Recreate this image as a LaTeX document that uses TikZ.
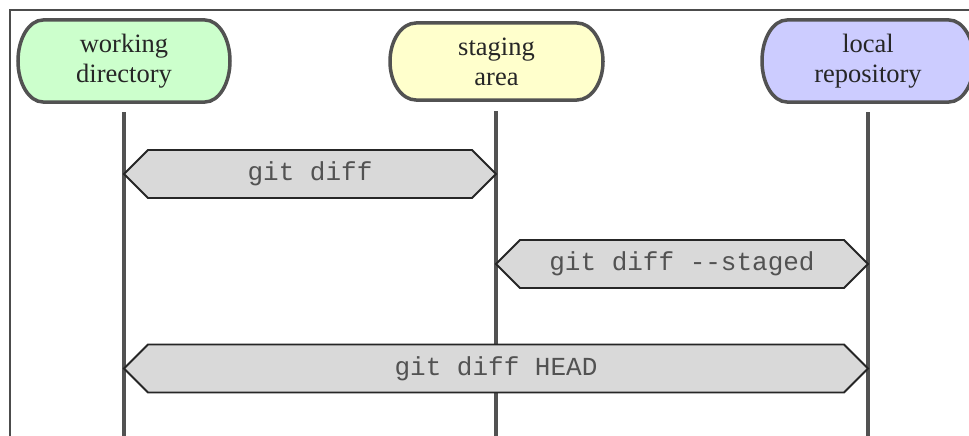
\documentclass[tikz,border=0pt]{standalone}
\usepackage{fontspec}
\setmainfont{Liberation Serif}
\newfontfamily\codefont{Liberation Mono}
\newcommand\stadium[6]{% cx cy halfwidth halfheight xradius fill
  \path[stadiumline, fill=#6] (#1-#3+#5,#2-#4) -- (#1+#3-#5,#2-#4)
    arc[start angle=-90,end angle=90,x radius=#5,y radius=#4]
    -- (#1-#3+#5,#2+#4)
    arc[start angle=90,end angle=270,x radius=#5,y radius=#4] -- cycle;}
\newcommand\hexbar[4]{% x1 x2 ymid halfheight
  \path[barshape] (#1,#3) -- (#1+#4,#3-#4) -- (#2-#4,#3-#4) -- (#2,#3)
    -- (#2-#4,#3+#4) -- (#1+#4,#3+#4) -- cycle;}
\definecolor{wdgreen}{HTML}{CCFFCC}
\definecolor{sayellow}{HTML}{FFFFCC}
\definecolor{lrblue}{HTML}{CCCCFF}
\begin{document}
\begin{tikzpicture}[x=1pt,y=-1pt,
  frameline/.style={draw=black!70, line width=1.5},
  stadiumline/.style={draw=black!68, line width=3.5},
  lifeline/.style={draw=black!68, line width=4},
  barshape/.style={draw=black!85, line width=1.8, fill=black!15, line join=miter},
  label/.style={font=\fontsize{26.5}{30}\selectfont, text=black!85, align=center, inner sep=0},
  cmd/.style={font=\codefont\fontsize{26}{30}\selectfont, text=black!68, inner sep=0}]
\useasboundingbox (0,0) rectangle (969,436);
\clip (0,0) rectangle (969,436);
\fill[white] (0,0) rectangle (969,436);
% frame
\coordinate (fr) at (975,10);
\coordinate (fc) at (10,10);
\coordinate (fb) at (10,440);
\draw[frameline] (fr) -- (fc) -- (fb);
% stadium shapes
\stadium{124}{61}{106}{41}{25}{wdgreen}
\stadium{496.5}{61.5}{106.5}{38.5}{26}{sayellow}
\stadium{868}{61}{106}{41}{25}{lrblue}
% lifelines
\coordinate (wdt) at (124,112);
\coordinate (wdb) at (124,440);
\coordinate (sat) at (496,111);
\coordinate (sab) at (496,440);
\coordinate (lrt) at (868,112);
\coordinate (lrb) at (868,440);
\draw[lifeline] (wdt) -- (wdb);
\draw[lifeline] (sat) -- (sab);
\draw[lifeline] (lrt) -- (lrb);
% labels
\node[label] (wd) at (124,61) {working\\directory};
\node[label] (sa) at (496.5,61.5) {staging\\area};
\node[label] (lr) at (868,61) {local\\repository};
% bars
\hexbar{124}{496}{174}{24}
\node[cmd] (d1) at (310,174) {git diff};
\hexbar{496}{868}{264}{24}
\node[cmd] (d2) at (682,264) {git diff -{}-staged};
\hexbar{124}{868}{368.5}{24}
\node[cmd] (d3) at (496,368.5) {git diff HEAD};
\end{tikzpicture}
\end{document}
